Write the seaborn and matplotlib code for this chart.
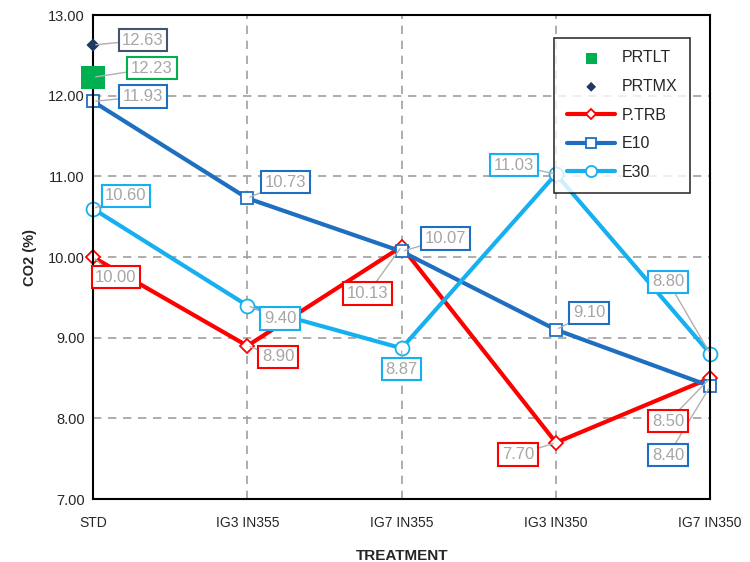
import matplotlib
matplotlib.use("Agg")
from matplotlib import pyplot as plt
import seaborn as sns

categories = ["STD", "IG3 IN355", "IG7 IN355", "IG3 IN350", "IG7 IN350"]
ptrb = [10.00, 8.90, 10.13, 7.70, 8.50]
e10 = [11.93, 10.73, 10.07, 9.10, 8.40]
e30 = [10.60, 9.40, 8.87, 11.03, 8.80]
prtlt = [12.23]
prtmx = [12.63]

sns.set_style("white")
plt.rcParams["font.family"] = ["Liberation Sans", "DejaVu Sans"]

red = "#FF0000"
blue = "#1F6FC0"
cyan = "#16B0F0"
green = "#00B050"
navy = "#1F3864"
grey_txt = "#A6A6A6"

fig = plt.figure(figsize=(7.5, 5.62), dpi=100)
ax = fig.add_axes([0.124, 0.112, 0.823, 0.861])

x = list(range(len(categories)))

# lines
sns.lineplot(x=x, y=ptrb, ax=ax, color=red, lw=3, marker="D", markersize=7,
             markerfacecolor="white", markeredgecolor=red, markeredgewidth=1.3, label="P.TRB")
sns.lineplot(x=x, y=e10, ax=ax, color=blue, lw=3, marker="s", markersize=9,
             markerfacecolor="white", markeredgecolor=blue, markeredgewidth=1.3, label="E10")
sns.lineplot(x=x, y=e30, ax=ax, color=cyan, lw=3, marker="o", markersize=10,
             markerfacecolor="white", markeredgecolor=cyan, markeredgewidth=1.3, label="E30")
# single points at STD
sns.scatterplot(x=x[:1], y=prtlt, ax=ax, color=green, marker="s", s=280, edgecolor="none",
                label="PRTLT", zorder=5)
sns.scatterplot(x=x[:1], y=prtmx, ax=ax, color=navy, marker="D", s=45, edgecolor="none",
                label="PRTMX", zorder=5)
for art in ax.lines + ax.collections:
    art.set_clip_on(False)

# data labels (offset in pixels from the point)
labels = [
    (prtmx, [(50, 5)], "#44546A"),
    (prtlt, [(59, 9)], green),
    (e10, [(50, 5), (38, 16), (44, 13), (33, 17), (-42, -69)], blue),
    (e30, [(33, 13), (33, -13), (0, -21), (-42, 9), (-42, 72)], cyan),
    (ptrb, [(23, -20), (31, -11), (-34, -47), (-38, -12), (-42, -43)], red),
]
for vals, offs, col in labels:
    for i, (v, off) in enumerate(zip(vals, offs)):
        ax.annotate(f"{v:.2f}", xy=(x[i], v), xytext=off, textcoords="offset pixels",
                    ha="center", va="center", fontsize=12, color=grey_txt, zorder=6,
                    bbox=dict(boxstyle="square,pad=0.22", fc="white", ec=col, lw=1.5),
                    arrowprops=dict(arrowstyle="-", color="#B0B0B0", lw=1,
                                    shrinkA=0, shrinkB=2))

ax.set_xlim(0, 4)
ax.set_ylim(7, 13)
ax.set_xticks(x)
ax.set_xticklabels(categories, fontsize=10)
ax.set_yticks([7, 8, 9, 10, 11, 12, 13])
ax.set_yticklabels([f"{t:.2f}" for t in range(7, 14)], fontsize=10.5)
ax.tick_params(axis="x", pad=12, length=0)
ax.tick_params(axis="y", length=0, pad=6)
ax.grid(True, color="#A0A0A0", ls=(0, (5, 4)), lw=1.2)
for s in ax.spines.values():
    s.set_color("black")
    s.set_linewidth(1.5)

ax.set_xlabel("TREATMENT", fontsize=11, fontweight="bold", labelpad=14)
ax.set_ylabel("CO2 (%)", fontsize=10.5, fontweight="bold", labelpad=8)

h, l = ax.get_legend_handles_labels()
order = [l.index(n) for n in ["PRTLT", "PRTMX", "P.TRB", "E10", "E30"]]
leg = ax.legend([h[i] for i in order], [l[i] for i in order], loc="upper right",
                bbox_to_anchor=(0.98, 0.97), frameon=True, fancybox=False,
                edgecolor="black", fontsize=11.5, handlelength=3, labelspacing=0.85,
                borderpad=0.8, handletextpad=0.4, markerscale=0.8)
leg.get_frame().set_linewidth(1.2)
leg.legend_handles[0].set_sizes([60])
leg.legend_handles[1].set_sizes([25])

fig.savefig("out.png", dpi=100)
